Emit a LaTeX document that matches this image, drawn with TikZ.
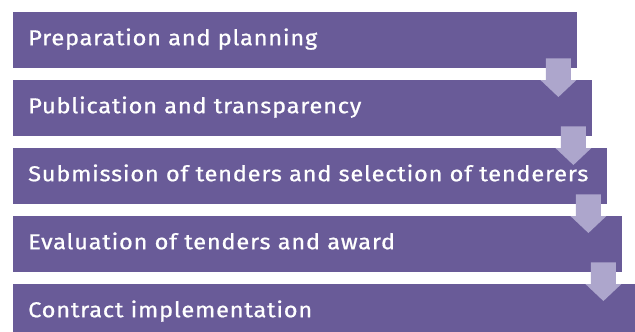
\documentclass[tikz,border=0pt]{standalone}
\usepackage{fontspec}
\setsansfont[FakeStretch=1.1,LetterSpace=3.5,FakeBold=0.8]{Fira Sans}
\usetikzlibrary{calc}
\definecolor{stagebg}{RGB}{105,91,152}
\definecolor{flowbg}{RGB}{173,166,204}

\begin{document}
\begin{tikzpicture}[x=1bp,y=-1bp,
    stage/.style={fill=stagebg, text=white, anchor=north west,
        minimum height=56bp, inner xsep=15bp, inner ysep=0pt,
        text height=14bp, text depth=4bp, align=left,
        font=\sffamily\fontsize{21.5bp}{23bp}\selectfont},
    flow/.style={fill=flowbg}]
    % 画布大小
    \useasboundingbox (0,0) rectangle (635,331);
    \clip (0,0) rectangle (635,331);

    % 五个阶段, 逐个右移
    \node [stage, text width=534bp] (b1) at (13,12) {Preparation and planning};
    \node [stage, text width=549bp] (b2) at (13,80) {Publication and transparency};
    \node [stage, text width=564bp] (b3) at (13,148) {Submission of tenders and selection of tenderers};
    \node [stage, text width=579bp] (b4) at (13,216) {Evaluation of tenders and award};
    \node [stage, text width=594bp] (b5) at (13,284) {Contract implementation};

    % 箭头起点: 上一块右下角附近
    \coordinate (a1) at ($(b1.south east)+(-19,-10)$);
    \coordinate (a2) at ($(b2.south east)+(-19,-10)$);
    \coordinate (a3) at ($(b3.south east)+(-19,-10)$);
    \coordinate (a4) at ($(b4.south east)+(-19,-10)$);

    % 向下的箭头
    \fill [flow] ($(a1)+(-12.5,0)$) -- ++(25,0) -- ($(a1|-b2.north)+(12.5,0)$) -- ++(5.5,0)
        -- ($(a1|-b2.north)+(0,17)$) -- ($(a1|-b2.north)+(-18,0)$) -- ++(5.5,0) -- cycle;
    \fill [flow] ($(a2)+(-12.5,0)$) -- ++(25,0) -- ($(a2|-b3.north)+(12.5,0)$) -- ++(5.5,0)
        -- ($(a2|-b3.north)+(0,17)$) -- ($(a2|-b3.north)+(-18,0)$) -- ++(5.5,0) -- cycle;
    \fill [flow] ($(a3)+(-12.5,0)$) -- ++(25,0) -- ($(a3|-b4.north)+(12.5,0)$) -- ++(5.5,0)
        -- ($(a3|-b4.north)+(0,17)$) -- ($(a3|-b4.north)+(-18,0)$) -- ++(5.5,0) -- cycle;
    \fill [flow] ($(a4)+(-12.5,0)$) -- ++(25,0) -- ($(a4|-b5.north)+(12.5,0)$) -- ++(5.5,0)
        -- ($(a4|-b5.north)+(0,17)$) -- ($(a4|-b5.north)+(-18,0)$) -- ++(5.5,0) -- cycle;
\end{tikzpicture}
\end{document}
